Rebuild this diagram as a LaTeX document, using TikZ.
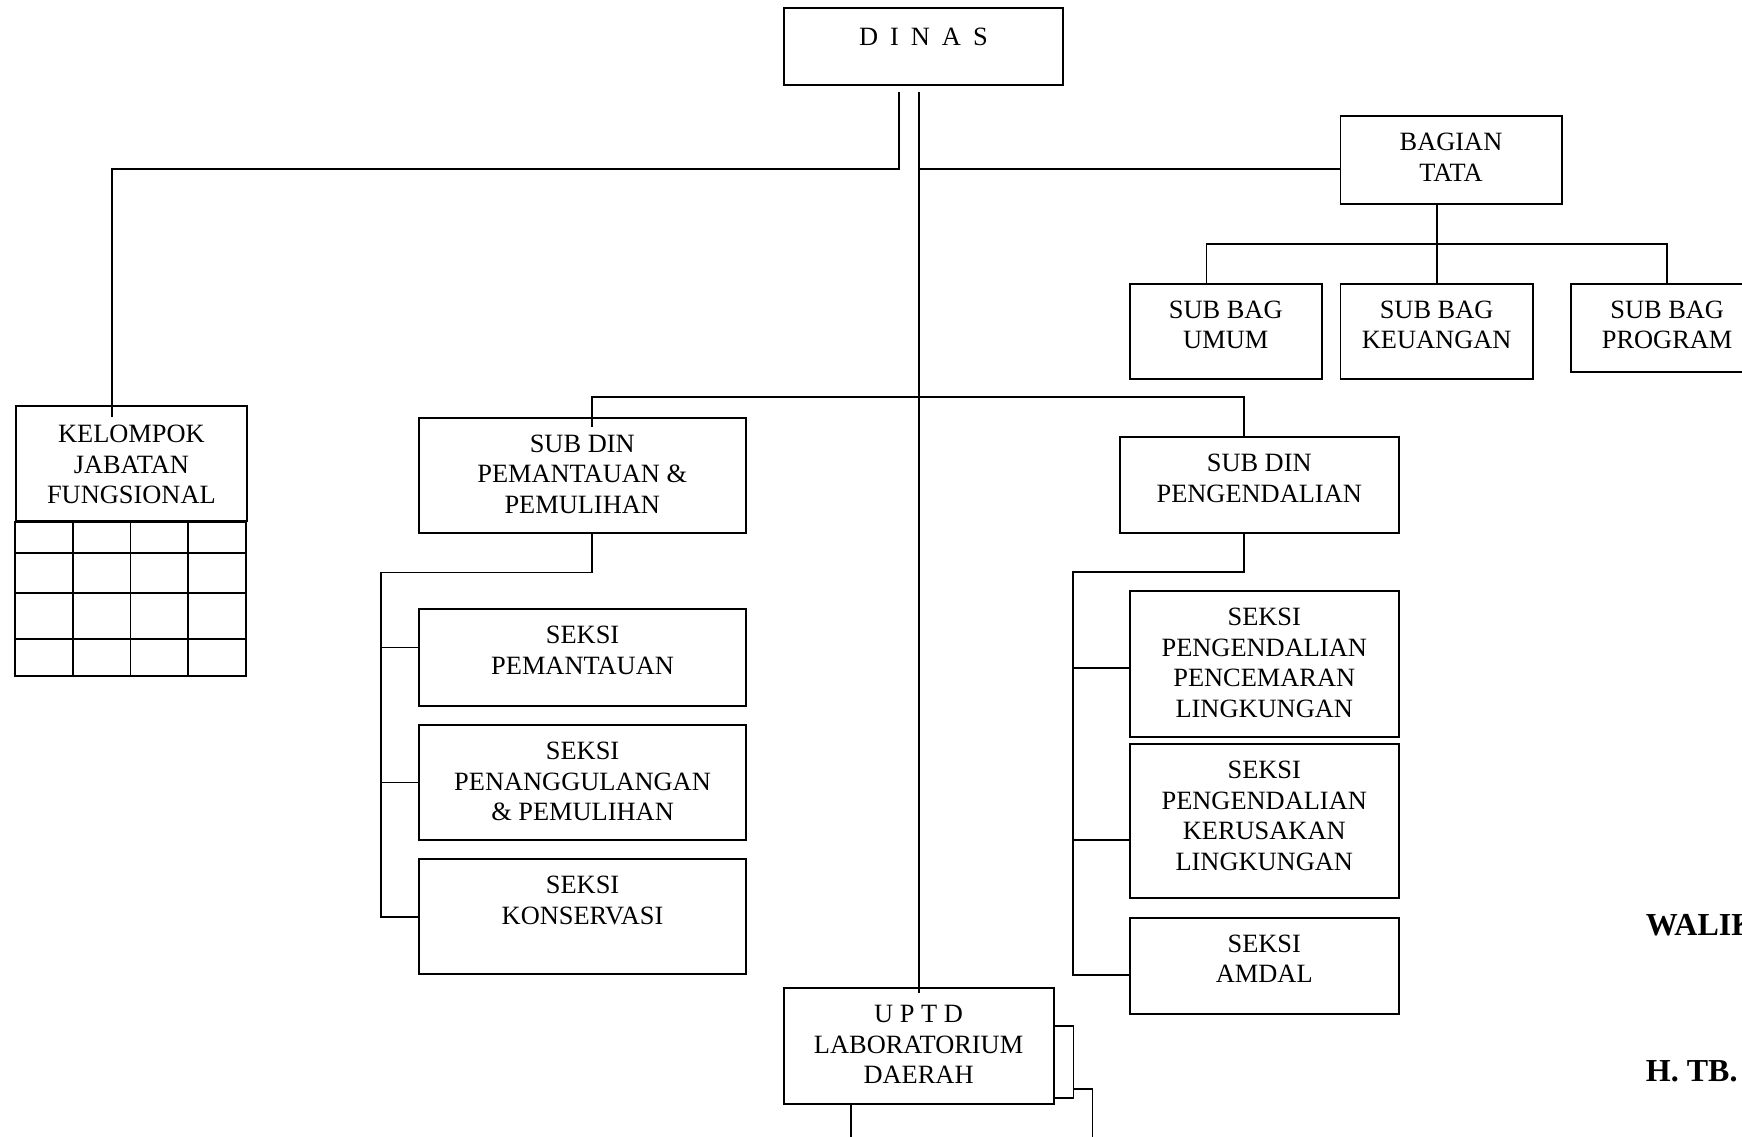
\documentclass[tikz,border=0pt]{standalone}
\usepackage{fontspec}
\setmainfont{Liberation Serif}
\usepackage{tikz}
\usetikzlibrary{positioning}
\newcommand\orgfont{\fontsize{26.4}{30.5}\selectfont}
\tikzset{
  orgbox/.style 2 args={draw, line width=1.8pt, anchor=north west, inner sep=0pt, minimum width=#1, minimum height=#2},
  boxtext/.style={anchor=north, align=center, inner xsep=0pt, inner ysep=18pt, font=\orgfont},
  link/.style={line width=1.8pt},
  sign/.style={anchor=base west, inner sep=0pt, font=\fontsize{32}{36}\selectfont\bfseries}
}

\begin{document}
\begin{tikzpicture}[x=1pt,y=-1pt]
\useasboundingbox (0,0) rectangle (1742,1137);
\clip (0,0) rectangle (1742,1137);

% Head and secretariat
\node[orgbox={279}{77}, label={[boxtext, inner ysep=21pt]north:{D\hspace{12pt}I\hspace{12pt}N\hspace{12pt}A\hspace{12pt}S}}] (dinas) at (783,7) {};
\node[orgbox={221.2}{87.7}, label={[boxtext]north:{BAGIAN\\TATA}}] (bag) at (1339.5,115) {};
\node[orgbox={192.3}{95.6}, label={[boxtext]north:{SUB BAG\\UMUM}}] (umum) at (1128.7,282.7) {};
\node[orgbox={192.5}{95.6}, label={[boxtext]north:{SUB BAG\\KEUANGAN}}] (keu) at (1339.5,282.7) {};
\node[orgbox={192.5}{88}, label={[boxtext]north:{SUB BAG\\PROGRAM}}] (prog) at (1570,282.7) {};

% Functional group with its grid
\node[orgbox={231}{115}, label={[boxtext, inner ysep=20pt]north:{KELOMPOK\\JABATAN\\FUNGSIONAL}}] (kel) at (15,405) {};
\draw[link] (kel.south west) rectangle ++(231,154);
\foreach \c in {57.75,115.5,173.25}
  \draw[link] ([xshift=\c]kel.south west) -- ++(0,154);
\foreach \r in {31,71,117}
  \draw[link] ([yshift=-\r]kel.south west) -- ++(231,0);

% Sub dinas and sections
\node[orgbox={327.3}{115.6}, label={[boxtext]north:{SUB DIN\\PEMANTAUAN \&\\PEMULIHAN}}] (sdp) at (417.7,416.7) {};
\node[orgbox={278.7}{96.3}, label={[boxtext]north:{SUB DIN\\PENGENDALIAN}}] (sdk) at (1119,436) {};

\node[orgbox={326.7}{96.7}, label={[boxtext]north:{SEKSI\\PEMANTAUAN}}] (spm) at (418.3,608.3) {};
\node[orgbox={326.7}{115}, label={[boxtext]north:{SEKSI\\PENANGGULANGAN\\\& PEMULIHAN}}] (spg) at (418.3,724) {};
\node[orgbox={326.7}{115}, label={[boxtext]north:{SEKSI\\KONSERVASI}}] (skv) at (418.3,858.3) {};

\node[orgbox={268.7}{145.7}, label={[boxtext]north:{SEKSI\\PENGENDALIAN\\PENCEMARAN\\LINGKUNGAN}}] (spc) at (1129,590) {};
\node[orgbox={268.7}{153.4}, label={[boxtext]north:{SEKSI\\PENGENDALIAN\\KERUSAKAN\\LINGKUNGAN}}] (skr) at (1129,743.3) {};
\node[orgbox={268.7}{96}, label={[boxtext]north:{SEKSI\\AMDAL}}] (sam) at (1129,916.7) {};

\node[orgbox={270}{115.4}, label={[boxtext]north:{U P T D\\LABORATORIUM\\DAERAH}}] (uptd) at (782.7,987.3) {};

% Signature
\node[sign] (wali) at (1645.7,935) {WALIK};
\node[sign] (sig) at (1645.7,1081.7) {H. TB.};

% Lines from the head
\coordinate (dL) at ([xshift=-24.5,yshift=-6]dinas.south);
\coordinate (dR) at (uptd.north |- dL);
\coordinate (jL) at ([yshift=-77]dL);
\coordinate (jR) at ([yshift=-77]dR);
\draw[link] (dL) -- (jL) -| ([xshift=-19.5,yshift=-12]kel.north);
\draw[link] (dR) -- ([yshift=-6]uptd.north);
\draw[link] (jR) -- (jR -| bag.west);

% Secretariat
\draw[link] (bag.south -| keu.north) -- (keu.north);
\draw[link] ([xshift=-19.3]umum.north) -- ++(0,-38.7) -| (prog.north);

% Sub dinas
\draw[link] ([xshift=9.7,yshift=-10]sdp.north) -- ++(0,-29.7) -| ([xshift=-15]sdk.north);
\draw[link] ([xshift=9.7]sdp.south) |- ++(-211,38.4) |- (skv.west);
\draw[link] ([yshift=10]spm.west) -- ++(-38.3,0);
\draw[link] (spg.west) -- ++(-38.3,0);
\draw[link] ([xshift=-15]sdk.south) |- ++(-171.6,37.7) |- ([yshift=-9.3]sam.west);
\draw[link] ([yshift=-3.85]spc.west) -- ++(-57.3,0);
\draw[link] ([yshift=-19.3]skr.west) -- ++(-57.3,0);

% UPTD side lines
\draw[link] ([yshift=20]uptd.east) -- ++(19,0) |- ([yshift=-51.7]uptd.east);
\draw[link] ([xshift=19,yshift=-43]uptd.east) -| ++(19,60);
\draw[link] ([xshift=-67.7]uptd.south) -- ++(0,45);
\end{tikzpicture}
\end{document}
